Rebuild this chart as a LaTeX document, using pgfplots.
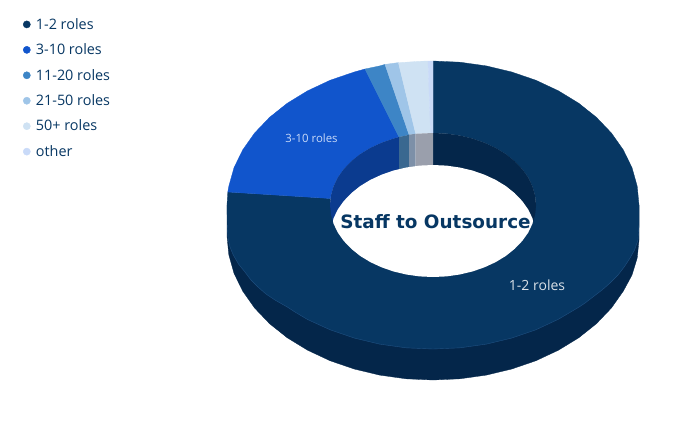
\documentclass[border=0pt]{standalone}
\usepackage{pgfplots}
\pgfplotsset{compat=1.18}
\usepackage{fontspec}
\setmainfont{Open Sans}
\newfontfamily\titlefont{DejaVu Sans}
\definecolor{navy}{HTML}{073763}
\definecolor{navyedge}{HTML}{1F4E7E}
\definecolor{navywall}{HTML}{04264A}
\definecolor{rolesb}{HTML}{1155CC}
\definecolor{rolesbwall}{HTML}{0B3B8F}
\definecolor{rolesc}{HTML}{3D85C6}
\definecolor{rolescwall}{HTML}{3A6890}
\definecolor{rolesd}{HTML}{9FC5E8}
\definecolor{rolesdwall}{HTML}{7D90A8}
\definecolor{rolese}{HTML}{CFE2F3}
\definecolor{roleswall}{HTML}{9A9FAC}
\definecolor{rolesf}{HTML}{C9DAF8}
\begin{document}
\begin{tikzpicture}
\begin{axis}[
    scale only axis,
    width=700pt,
    height=440pt,
    xmin=0, xmax=700,
    ymin=0, ymax=440,
    y dir=reverse,
    hide axis,
    legend image code/.code={\draw[#1] plot coordinates {(0pt,0pt)};},
    legend style={at={(axis cs:23,16)}, anchor=north west, draw=none, fill=none,
        font=\fontsize{14.4}{16}\selectfont\color{navy}, row sep=9pt, inner sep=0pt,
        /tikz/column 1/.style={column sep=3.5pt}},
    legend cell align=left,
]
% side wall
\addplot[forget plot, fill=navywall, draw=navywall, line width=0.3pt] coordinates {
(227,205)(227,236)(228.8,254.8)(234,273.3)(242.7,291.1)(254.6,308)(269.6,323.7)(287.3,337.8)(307.6,350.2)(330,360.7)(354.2,369)(379.7,375.1)(406.1,378.8)(433,380)
(459.9,378.8)(486.3,375.1)(511.8,369)(536,360.7)(558.4,350.2)(578.7,337.8)(596.4,323.7)(611.4,308)(623.3,291.1)(632,275)(637.2,258)(639,240)(639,205)
} --cycle;
% 1-2 roles
\addplot[forget plot, fill=navy, draw=navy, line width=0.3pt] coordinates {
(433,61)(459.9,62.2)(486.3,65.9)(511.8,72)(536,80.3)(558.4,90.8)(578.7,103.2)(596.4,117.3)(611.4,133)(623.3,149.9)(632,167.7)(637.2,186.2)(639,205)
(639,225)(638,240)(634.5,250)(630,258)(624.5,266.5)(618,275)(610,283)(602,290)(585,303)(578.7,307.2)(558.4,319.2)(536,329.7)(511.8,338)(486.3,344.1)(459.9,347.8)(433,349)
(406.1,347.8)(379.7,344.1)(354.2,338)(330,329.7)(307.6,319.5)(295,312)(287.3,307)(275,300)(266,294)(258,287)(251,280)(245,272)(238.5,264)(233.3,255)(230,247)(228,238)(227.3,225)(227,205)(227.8,192)
(330.5,198.5)(330,205)(330.9,214.4)(333.5,223.6)(337.8,232.6)(343.8,241)(351.3,248.8)(360.1,255.9)(370.3,262.1)(381.5,267.3)(393.6,271.5)(406.3,274.5)(419.5,276.4)(433,277)
(446.5,276.4)(459.7,274.5)(472.4,271.5)(484.5,267.3)(495.7,262.1)(505.9,255.9)(514.7,248.8)(522.2,241)(528.2,232.6)(532.5,223.6)(535.1,214.4)(536,205)
(535.1,195.6)(532.5,186.4)(528.2,177.4)(522.2,169)(514.7,161.2)(505.9,154.1)(495.7,147.9)(484.5,142.7)(472.4,138.5)(459.7,135.5)(446.5,133.6)(433,133)
} --cycle;
% thin light seam along the front edge
\addplot[forget plot, draw=navyedge, line width=0.4pt] coordinates {
(639,225)(638,240)(634.5,250)(630,258)(624.5,266.5)(618,275)(610,283)(602,290)(585,303)(578.7,307.2)(558.4,319.2)(536,329.7)(511.8,338)(486.3,344.1)(459.9,347.8)(433,349)
(406.1,347.8)(379.7,344.1)(354.2,338)(330,329.7)(307.6,319.5)(295,312)(287.3,307)(275,300)(266,294)(258,287)(251,280)(245,272)(238.5,264)(233.3,255)(230,247)(228,238)(227.3,225)
};
% 3-10 roles
\addplot[forget plot, fill=rolesb, draw=rolesb, line width=0.3pt] coordinates {
(227.8,192)(228.8,186.2)(234,167.7)(242.7,149.9)(254.6,133)(269.6,117.3)(287.3,103.2)(307.6,90.8)(330,80.3)(354.2,72)(365,69)
(399,137)(393.6,138.5)(381.5,142.7)(370.3,147.9)(360.1,154.1)(351.3,161.2)(343.8,169)(337.8,177.4)(333.5,186.4)(330.9,195.6)(330.5,198.5)
} --cycle;
% 11-20 roles
\addplot[forget plot, fill=rolesc, draw=rolesc, line width=0.3pt] coordinates {
(365,69)(379.7,65.9)(385,64.4)(409,134.7)(406.3,135.5)(399,137)
} --cycle;
% 21-50 roles
\addplot[forget plot, fill=rolesd, draw=rolesd, line width=0.3pt] coordinates {
(385,64.4)(398.4,62.6)(415.7,133.8)(409,134.7)
} --cycle;
% 50+ roles
\addplot[forget plot, fill=rolese, draw=rolese, line width=0.3pt] coordinates {
(398.4,62.6)(406.1,62.2)(419,61.3)(428,61)(430.5,133)(419.5,133.6)(415.7,133.8)
} --cycle;
% other
\addplot[forget plot, fill=rolesf, draw=rolesf, line width=0.3pt] coordinates {
(428,61)(433,61)(433,133)(430.5,133)
} --cycle;
% inner wall
\addplot[forget plot, fill=navywall, draw=none] coordinates {
(433,133)(446.5,133.6)(459.7,135.5)(472.4,138.5)(484.5,142.7)(495.7,147.9)(505.9,154.1)(514.7,161.2)(522.2,169)(528.2,177.4)(532.5,186.4)(535.1,195.6)(536,205)(535.1,214.4)(532.5,223.6)(433,223.6)
} --cycle;
\addplot[forget plot, fill=rolesbwall, draw=none] coordinates {
(399,137)(393.6,138.5)(381.5,142.7)(370.3,147.9)(360.1,154.1)(351.3,161.2)(343.8,169)(337.8,177.4)(333.5,186.4)(330.9,195.6)(330,205)(330.9,214.4)(333.5,223.6)(399,223.6)
} --cycle;
\addplot[forget plot, fill=rolescwall, draw=none] coordinates {(399,137)(406.3,135.5)(409,134.7)(409,190)(399,190)} --cycle;
\addplot[forget plot, fill=rolesdwall, draw=none] coordinates {(409,134.7)(415.7,133.8)(415.7,190)(409,190)} --cycle;
\addplot[forget plot, fill=roleswall, draw=none] coordinates {(415.7,133.8)(419.5,133.6)(433,133)(433,190)(415.7,190)} --cycle;
% hole
\addplot[forget plot, fill=white, draw=none] coordinates {
(533,221)(532.5,218.4)(528.2,209.4)(522.2,201)(514.7,193.2)(505.9,186.1)(495.7,179.9)(484.5,174.7)(472.4,170.5)(459.7,167.5)(446.5,165.6)(433,165)
(419.5,165.6)(406.3,167.5)(393.6,170.5)(381.5,174.7)(370.3,179.9)(360.1,186.1)(351.3,193.2)(343.8,201)(337.8,209.4)(333.5,218.4)(333,221)
(333.5,223.6)(337.8,232.6)(343.8,241)(351.3,248.8)(360.1,255.9)(370.3,262.1)(381.5,267.3)(393.6,271.5)(406.3,274.5)(419.5,276.4)(433,277)
(446.5,276.4)(459.7,274.5)(472.4,271.5)(484.5,267.3)(495.7,262.1)(505.9,255.9)(514.7,248.8)(522.2,241)(528.2,232.6)(532.5,223.6)
} --cycle;
% legend keys
\addlegendimage{only marks, mark=*, mark size=3.6pt, color=navy}
\addlegendentry{1-2 roles}
\addlegendimage{only marks, mark=*, mark size=3.6pt, color=rolesb}
\addlegendentry{3-10 roles}
\addlegendimage{only marks, mark=*, mark size=3.6pt, color=rolesc}
\addlegendentry{11-20 roles}
\addlegendimage{only marks, mark=*, mark size=3.6pt, color=rolesd}
\addlegendentry{21-50 roles}
\addlegendimage{only marks, mark=*, mark size=3.6pt, color=rolese}
\addlegendentry{50+ roles}
\addlegendimage{only marks, mark=*, mark size=3.6pt, color=rolesf}
\addlegendentry{other}
\node[font=\titlefont\bfseries\fontsize{18.4}{21}\selectfont, text=navy] at (axis cs:435.5,222) {Staff to Outsource};
\node[font=\fontsize{14}{16}\selectfont, text=white!85!navy] at (axis cs:537,285) {1-2 roles};
\node[font=\fontsize{11.4}{13}\selectfont, text=rolesf] at (axis cs:311.5,138) {3-10 roles};
\end{axis}
\path (0,0) rectangle (700pt,440pt);
\end{tikzpicture}
\end{document}
